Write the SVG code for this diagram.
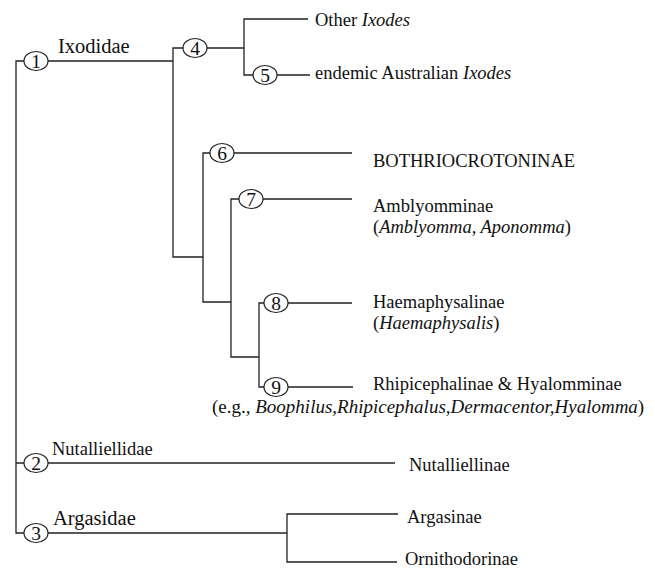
<svg xmlns="http://www.w3.org/2000/svg" width="655" height="569" viewBox="0 0 655 569">
  <style>
    .edge { fill: none; stroke: #222; stroke-width: 1.3; }
    .node ellipse { fill: #fff; stroke: #222; stroke-width: 1.2; }
    .num { font-family: "Liberation Serif", "Times New Roman", serif; font-size: 19.5px; fill: #111; text-anchor: middle; }
    .lbl { font-family: "Liberation Serif", "Times New Roman", serif; font-size: 18.5px; fill: #111; }
    .fam { font-family: "Liberation Serif", "Times New Roman", serif; font-size: 20.5px; fill: #111; }
    .it { font-style: italic; }
  </style>

  <!-- branches of the tree -->
  <g id="connectors">
    <path class="edge" d="M24,61 H16 V533 H24 M16,463 H24"/>
    <path class="edge" d="M48,61 H173 M183,48 H173 V257 H203"/>
    <path class="edge" d="M207,48 H244 M308,19 H244 V75 H253 M277,75 H310"/>
    <path class="edge" d="M210,153 H203 V302 H231 M234,153 H352"/>
    <path class="edge" d="M239,199 H231 V357 H259 M263,199 H352"/>
    <path class="edge" d="M264,303 H259 V387 H264 M288,303 H352 M288,387 H353"/>
    <path class="edge" d="M48,463 H395"/>
    <path class="edge" d="M48,533 H287 M398,514 H287 V562 H397"/>
  </g>

  <!-- numbered nodes -->
  <g id="node1" class="node"><ellipse cx="36" cy="61" rx="12" ry="9.5"/><text class="num" x="36" y="67.5">1</text></g>
  <g id="node2" class="node"><ellipse cx="36" cy="463" rx="12" ry="9.5"/><text class="num" x="36" y="469.5">2</text></g>
  <g id="node3" class="node"><ellipse cx="36" cy="533" rx="12" ry="9.5"/><text class="num" x="36" y="539.5">3</text></g>
  <g id="node4" class="node"><ellipse cx="195" cy="48" rx="12" ry="9.5"/><text class="num" x="195" y="54.5">4</text></g>
  <g id="node5" class="node"><ellipse cx="265" cy="75" rx="12" ry="9.5"/><text class="num" x="265" y="81.5">5</text></g>
  <g id="node6" class="node"><ellipse cx="222" cy="153" rx="12" ry="9.5"/><text class="num" x="222" y="159.5">6</text></g>
  <g id="node7" class="node"><ellipse cx="251" cy="199" rx="12" ry="9.5"/><text class="num" x="251" y="205.5">7</text></g>
  <g id="node8" class="node"><ellipse cx="276" cy="303" rx="12" ry="9.5"/><text class="num" x="276" y="309.5">8</text></g>
  <g id="node9" class="node"><ellipse cx="276" cy="387" rx="12" ry="9.5"/><text class="num" x="276" y="393.5">9</text></g>

  <!-- family labels -->
  <g id="ixodidae"><text class="fam" x="58" y="53">Ixodidae</text></g>
  <g id="nutalliellidae"><text class="lbl" x="52" y="455">Nutalliellidae</text></g>
  <g id="argasidae"><text class="fam" x="53" y="525">Argasidae</text></g>

  <!-- terminal taxa -->
  <g id="other-ixodes"><text class="lbl" x="315" y="26">Other <tspan class="it">Ixodes</tspan></text></g>
  <g id="endemic-ixodes"><text class="lbl" x="315" y="79">endemic Australian <tspan class="it">Ixodes</tspan></text></g>
  <g id="bothriocrotoninae"><text class="lbl" x="373" y="167">BOTHRIOCROTONINAE</text></g>
  <g id="amblyomminae">
    <text class="lbl" x="373" y="212">Amblyomminae</text>
    <text class="lbl" x="373" y="233">(<tspan class="it">Amblyomma, Aponomma</tspan>)</text>
  </g>
  <g id="haemaphysalinae">
    <text class="lbl" x="373" y="308">Haemaphysalinae</text>
    <text class="lbl" x="373" y="329">(<tspan class="it">Haemaphysalis</tspan>)</text>
  </g>
  <g id="rhipicephalinae">
    <text class="lbl" x="373" y="390">Rhipicephalinae &amp; Hyalomminae</text>
    <text class="lbl" x="212" y="413" style="font-size:19px">(e.g., <tspan class="it">Boophilus,Rhipicephalus,Dermacentor,Hyalomma</tspan>)</text>
  </g>
  <g id="nutalliellinae"><text class="lbl" x="409" y="471">Nutalliellinae</text></g>
  <g id="argasinae"><text class="lbl" x="407" y="523">Argasinae</text></g>
  <g id="ornithodorinae"><text class="lbl" x="405" y="565">Ornithodorinae</text></g>
</svg>
